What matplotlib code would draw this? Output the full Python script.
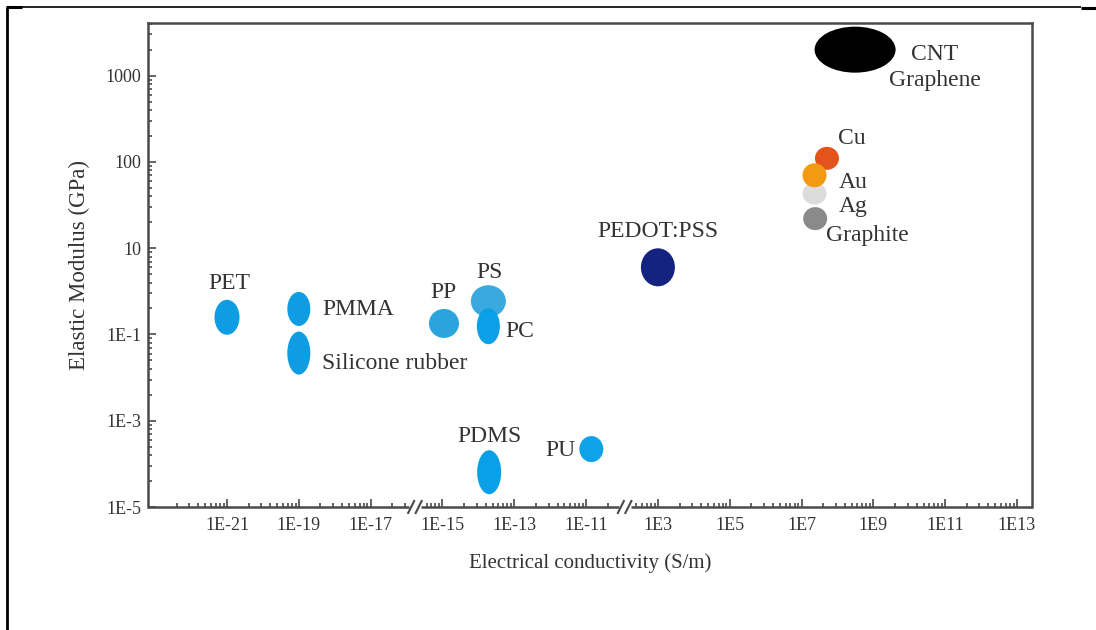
import numpy as np
import matplotlib
matplotlib.use("Agg")
import matplotlib.pyplot as plt
from matplotlib.patches import Ellipse
from matplotlib.transforms import ScaledTranslation
from matplotlib.lines import Line2D

# ---------------------------------------------------------------- data
materials = ["PET", "PMMA", "Silicone rubber", "PP", "PS", "PC", "PDMS", "PU",
             "PEDOT:PSS", "Cu", "Ag", "Au", "Graphite", "CNT\nGraphene"]
conductivity = [1e-21, 1e-19, 1e-19, 1.1e-15, 1.9e-14, 1.9e-14, 2.0e-14, 1.4e-11,
                1e3, 5.1e7, 2.3e7, 2.3e7, 2.4e7, 3.1e8]          # S/m
modulus = [0.25, 0.39, 0.037, 0.18, 0.59, 0.155, 6.4e-5, 2.2e-4,
           3.6, 110, 43, 70, 22, 2000]                              # GPa

x_tick_values = [1e-21, 1e-19, 1e-17, 1e-15, 1e-13, 1e-11,
                 1e3, 1e5, 1e7, 1e9, 1e11, 1e13]
x_tick_labels = ["1E-21", "1E-19", "1E-17", "1E-15", "1E-13", "1E-11",
                 "1E3", "1E5", "1E7", "1E9", "1E11", "1E13"]
y_tick_values = [1e-5, 1e-3, 1e-1, 10, 100, 1000]
y_tick_labels = ["1E-5", "1E-3", "1E-1", "10", "100", "1000"]

# ---------------------------------------------------------------- styles
colors = ["#0e9de2", "#0e9de2", "#0e9de2", "#2ba4dd", "#3aa9df", "#0a9fe6",
          "#0aa0e8", "#0ea2e8", "#13237f", "#e4531b", "#dcdcdc", "#f29a12",
          "#8a8a8a", "#000000"]
# marker (width, height) in pixels
sizes = [(25, 35), (23, 34), (23, 43), (30, 29), (35, 32), (23, 36), (24, 44),
         (24, 26), (34, 38), (24, 23), (24, 22), (24, 24), (24, 23), (81, 46)]
# label offsets (pixels from the mark centre) and horizontal alignment
label_pos = [(2, 34, "center"), (24, -1, "left"), (23, -10, "left"),
             (0, 31, "center"), (1, 29, "center"), (17, -5, "left"),
             (0, 36, "center"), (-16, -1, "right"), (0, 36, "center"),
             (11, 20, "left"), (24, -13, "left"), (24, -7, "left"),
             (11, -17, "left"), (80, -18, "center")]

TEXT = "#333333"
FRAME = "#4a4a4a"
plt.rcParams["font.family"] = ["Liberation Serif", "DejaVu Serif"]


# ------------------------------------------------ broken axis scales
def x_fwd(v):
    e = np.log10(np.maximum(np.asarray(v, float), 1e-300))
    return np.where(e <= -10, e, e - 12) / 2.0


def x_inv(p):
    e = 2.0 * np.asarray(p, float)
    return np.where(e <= -10, 10.0 ** e, 10.0 ** (e + 12))


def y_fwd(v):
    e = np.log10(np.maximum(np.asarray(v, float), 1e-300))
    return np.where(e >= 1, e - 1, (e - 1) / 2.0)


def y_inv(p):
    p = np.asarray(p, float)
    return np.where(p >= 0, 10.0 ** (p + 1), 10.0 ** (2 * p + 1))


fig = plt.figure(figsize=(10.96, 6.30), dpi=100)
ax = fig.add_axes([148 / 1096, 123 / 630, 884 / 1096, 484 / 630])
ax.set_xscale("function", functions=(x_fwd, x_inv))
ax.set_yscale("function", functions=(y_fwd, y_inv))

xu_lo, xu_hi = -11.6, 0.709
yu_lo, yu_hi = -3.0, 2.61
ax.set_xlim(float(x_inv(xu_lo)), float(x_inv(xu_hi)))
ax.set_ylim(float(y_inv(yu_lo)), float(y_inv(yu_hi)))

# ---------------------------------------------------------------- ticks
ax.set_xticks(x_tick_values)
ax.set_xticklabels(x_tick_labels)
ax.set_yticks(y_tick_values)
ax.set_yticklabels(y_tick_labels)

# minor ticks spaced like log decades inside every labelled interval
breaks = [-7.88, -4.96]
x_minor = []
for u in np.arange(-11.5, 1.0, 1.0):
    for k in range(2, 10):
        p = u + np.log10(k)
        if p > xu_hi or p < xu_lo:
            continue
        if any(b - 0.12 < p < b + 0.13 for b in breaks):
            continue
        x_minor.append(float(x_inv(p)))
ax.set_xticks(x_minor, minor=True)

y_minor = []
for u in np.arange(-3.0, 3.0, 1.0):
    for k in range(2, 10):
        p = u + np.log10(k)
        if p < yu_hi:
            y_minor.append(float(y_inv(p)))
ax.set_yticks(y_minor, minor=True)

ax.tick_params(which="both", direction="in", top=False, right=False,
               color=FRAME, width=1.2, labelcolor=TEXT, labelsize=13)
ax.tick_params(which="major", length=6)
ax.tick_params(which="minor", length=3)
ax.tick_params(axis="x", which="major", pad=7)
ax.tick_params(axis="y", which="major", pad=5)

for side in ("left", "top", "right"):
    ax.spines[side].set_color(FRAME)
    ax.spines[side].set_linewidth(1.8)
ax.spines["bottom"].set_visible(False)

# bottom axis line interrupted by the two breaks
xt = ax.get_xaxis_transform()
gap = 0.085
edges = [xu_lo] + [e for b in breaks for e in (b - gap, b + gap)] + [xu_hi]
for a, b in zip(edges[0::2], edges[1::2]):
    ax.plot([float(x_inv(a)), float(x_inv(b))], [0, 0], color=FRAME, lw=1.8,
            transform=xt, clip_on=False, solid_capstyle="butt")
for b in breaks:
    anchor = ScaledTranslation(float(x_inv(b)), 0, xt)
    for dx in (-0.04, 0.035):
        ax.plot([dx - 0.03, dx + 0.03], [-0.06, 0.06], color=FRAME, lw=1.5,
                transform=fig.dpi_scale_trans + anchor, clip_on=False)

# ---------------------------------------------------------------- marks
for name, xv, yv, col, (w, h), (dx, dy, ha) in zip(
        materials, conductivity, modulus, colors, sizes, label_pos):
    place = fig.dpi_scale_trans + ScaledTranslation(xv, yv, ax.transData)
    ax.add_patch(Ellipse((0, 0), w / 100, h / 100, facecolor=col,
                         edgecolor="none", transform=place, clip_on=False))
    ax.annotate(name, xy=(xv, yv), xytext=(dx, dy), textcoords="offset pixels",
                ha=ha, va="center", fontsize=17, color=TEXT,
                multialignment="center", linespacing=1.3)

ax.set_xlabel("Electrical conductivity (S/m)", fontsize=15, color=TEXT,
              labelpad=14)
ax.set_ylabel("Elastic Modulus (GPa)", fontsize=16.5, color=TEXT, labelpad=11)

# outer frame lines
W, H = 1096, 630
def fig_line(x0, y0, x1, y1, lw):
    fig.add_artist(Line2D([x0 / W, x1 / W], [1 - y0 / H, 1 - y1 / H],
                          color="black", lw=lw, solid_capstyle="butt"))

fig_line(7, 7, 1081, 7, 1.2)
fig_line(6, 7, 22, 7, 2.2)
fig_line(1081, 8, 1096, 8, 2.2)
fig_line(7, 7, 7, 630, 2.0)

fig.savefig("out.png", dpi=100, facecolor="white")
